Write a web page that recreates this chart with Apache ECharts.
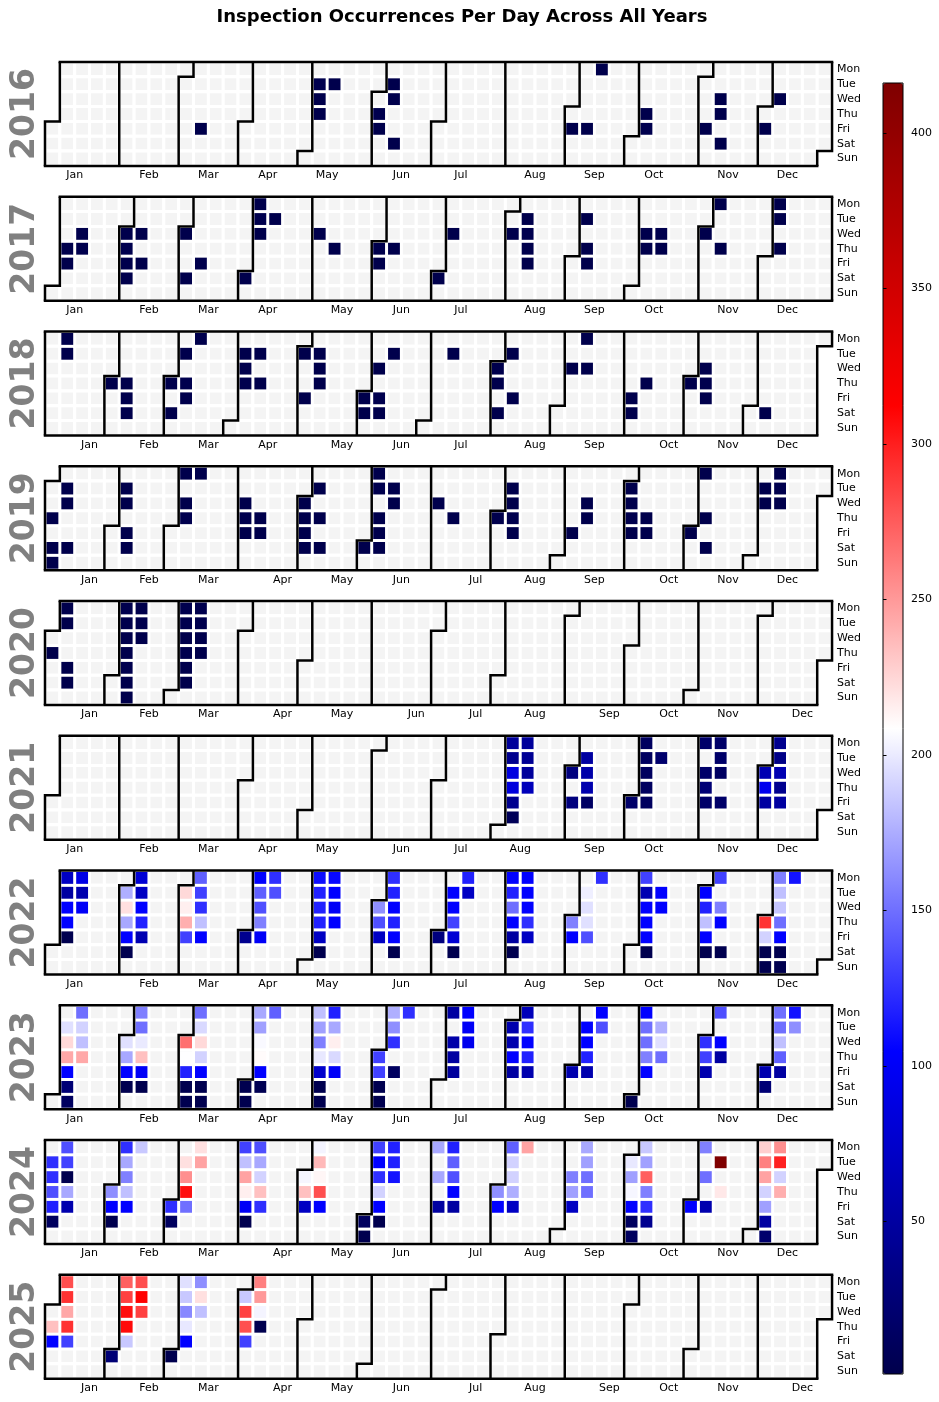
<!DOCTYPE html>
<html>
<head>
<meta charset="utf-8">
<title>Inspection Occurrences Per Day Across All Years</title>
<script src="https://cdn.jsdelivr.net/npm/echarts@6/dist/echarts.min.js"></script>
<style>
  html, body { margin: 0; padding: 0; background: #fff; }
  #chart { width: 939px; height: 1402px; }
</style>
</head>
<body>
<div id="chart"></div>
<script>
const years = [2016, 2017, 2018, 2019, 2020, 2021, 2022, 2023, 2024, 2025];

const counts2016 = [
  ['2016-03-11', 1], ['2016-05-03', 2], ['2016-05-04', 1], ['2016-05-05', 1], ['2016-05-10', 1],
  ['2016-06-02', 2], ['2016-06-03', 1], ['2016-06-07', 1], ['2016-06-08', 1], ['2016-06-11', 1],
  ['2016-09-02', 1], ['2016-09-09', 1], ['2016-09-12', 1], ['2016-10-06', 1], ['2016-10-07', 2],
  ['2016-11-04', 1], ['2016-11-09', 1], ['2016-11-10', 1], ['2016-11-12', 1], ['2016-12-02', 1],
  ['2016-12-07', 1]
];
const counts2017 = [
  ['2017-01-05', 1], ['2017-01-06', 1], ['2017-01-11', 1], ['2017-01-12', 2],
  ['2017-02-01', 1], ['2017-02-02', 2], ['2017-02-03', 1], ['2017-02-04', 1], ['2017-02-08', 1], ['2017-02-10', 1],
  ['2017-03-01', 1], ['2017-03-04', 1], ['2017-03-10', 1],
  ['2017-04-01', 1], ['2017-04-03', 1], ['2017-04-04', 2], ['2017-04-05', 1], ['2017-04-11', 1],
  ['2017-05-03', 1], ['2017-05-11', 1], ['2017-06-01', 1], ['2017-06-02', 1], ['2017-06-08', 1],
  ['2017-07-01', 1], ['2017-07-05', 1],
  ['2017-08-02', 1], ['2017-08-08', 1], ['2017-08-09', 2], ['2017-08-10', 1], ['2017-08-11', 1],
  ['2017-09-05', 1], ['2017-09-07', 1], ['2017-09-08', 1],
  ['2017-10-04', 1], ['2017-10-05', 1], ['2017-10-11', 2], ['2017-10-12', 1],
  ['2017-11-01', 1], ['2017-11-06', 1], ['2017-11-09', 1], ['2017-12-04', 1], ['2017-12-05', 1], ['2017-12-07', 1]
];
const counts2018 = [
  ['2018-01-08', 1], ['2018-01-09', 1],
  ['2018-02-01', 1], ['2018-02-08', 1], ['2018-02-09', 1], ['2018-02-10', 1],
  ['2018-03-01', 1], ['2018-03-03', 1], ['2018-03-06', 1], ['2018-03-08', 2], ['2018-03-09', 1], ['2018-03-12', 1],
  ['2018-04-03', 1], ['2018-04-04', 1], ['2018-04-05', 2], ['2018-04-10', 1], ['2018-04-12', 1],
  ['2018-05-01', 1], ['2018-05-04', 1], ['2018-05-08', 1], ['2018-05-09', 1], ['2018-05-10', 1],
  ['2018-06-01', 1], ['2018-06-02', 1], ['2018-06-06', 1], ['2018-06-08', 2], ['2018-06-09', 1], ['2018-06-12', 1],
  ['2018-07-10', 1],
  ['2018-08-01', 1], ['2018-08-02', 1], ['2018-08-04', 1], ['2018-08-07', 1], ['2018-08-10', 1],
  ['2018-09-05', 1], ['2018-09-10', 1], ['2018-09-12', 1],
  ['2018-10-05', 1], ['2018-10-06', 1], ['2018-10-11', 1],
  ['2018-11-01', 1], ['2018-11-07', 1], ['2018-11-08', 2], ['2018-11-09', 1], ['2018-12-08', 1]
];
const counts2019 = [
  ['2019-01-03', 1], ['2019-01-05', 1], ['2019-01-06', 1], ['2019-01-08', 1], ['2019-01-09', 1], ['2019-01-12', 1],
  ['2019-02-05', 1], ['2019-02-06', 1], ['2019-02-08', 1], ['2019-02-09', 1],
  ['2019-03-04', 1], ['2019-03-06', 1], ['2019-03-07', 2], ['2019-03-11', 1],
  ['2019-04-03', 1], ['2019-04-04', 2], ['2019-04-05', 1], ['2019-04-11', 1], ['2019-04-12', 1],
  ['2019-05-01', 1], ['2019-05-02', 1], ['2019-05-03', 1], ['2019-05-04', 1], ['2019-05-07', 1], ['2019-05-09', 1], ['2019-05-11', 1],
  ['2019-06-01', 1], ['2019-06-03', 1], ['2019-06-04', 2], ['2019-06-06', 1], ['2019-06-07', 1], ['2019-06-08', 1],
  ['2019-06-11', 1], ['2019-06-12', 1],
  ['2019-07-03', 1], ['2019-07-11', 1],
  ['2019-08-01', 1], ['2019-08-06', 1], ['2019-08-07', 1], ['2019-08-08', 2], ['2019-08-09', 1],
  ['2019-09-06', 1], ['2019-09-11', 1], ['2019-09-12', 1],
  ['2019-10-01', 1], ['2019-10-02', 1], ['2019-10-03', 2], ['2019-10-04', 1], ['2019-10-10', 1], ['2019-10-11', 1],
  ['2019-11-01', 1], ['2019-11-04', 1], ['2019-11-07', 1], ['2019-11-09', 1],
  ['2019-12-03', 1], ['2019-12-04', 1], ['2019-12-09', 1], ['2019-12-10', 2], ['2019-12-11', 1]
];
const counts2020 = [
  ['2020-01-02', 1], ['2020-01-06', 1], ['2020-01-07', 1], ['2020-01-10', 1], ['2020-01-11', 1],
  ['2020-02-03', 2], ['2020-02-04', 1], ['2020-02-05', 1], ['2020-02-06', 1], ['2020-02-07', 2],
  ['2020-02-08', 1], ['2020-02-09', 1], ['2020-02-10', 1], ['2020-02-11', 2], ['2020-02-12', 1],
  ['2020-03-02', 2], ['2020-03-03', 2], ['2020-03-04', 1], ['2020-03-05', 2], ['2020-03-06', 1],
  ['2020-03-07', 1], ['2020-03-09', 2], ['2020-03-10', 2], ['2020-03-11', 1], ['2020-03-12', 1]
];
const counts2021 = [
  ['2021-08-02', 47], ['2021-08-03', 40], ['2021-08-04', 87], ['2021-08-05', 85], ['2021-08-06', 40], ['2021-08-07', 8],
  ['2021-08-09', 47], ['2021-08-10', 43], ['2021-08-11', 47], ['2021-08-12', 65],
  ['2021-09-01', 30], ['2021-09-03', 30], ['2021-09-07', 50], ['2021-09-08', 55], ['2021-09-09', 58], ['2021-09-10', 15],
  ['2021-10-01', 18], ['2021-10-04', 12], ['2021-10-05', 12], ['2021-10-06', 12], ['2021-10-07', 12], ['2021-10-08', 12],
  ['2021-10-12', 20],
  ['2021-11-01', 18], ['2021-11-03', 18], ['2021-11-04', 25], ['2021-11-05', 18], ['2021-11-08', 18], ['2021-11-09', 18],
  ['2021-11-10', 14], ['2021-11-12', 18],
  ['2021-12-01', 60], ['2021-12-02', 95], ['2021-12-03', 50], ['2021-12-06', 40], ['2021-12-07', 35], ['2021-12-08', 60],
  ['2021-12-09', 40], ['2021-12-10', 50]
];
const counts2022 = [
  ['2022-01-03', 70], ['2022-01-04', 50], ['2022-01-05', 105], ['2022-01-06', 105], ['2022-01-07', 3],
  ['2022-01-10', 90], ['2022-01-11', 58], ['2022-01-12', 100],
  ['2022-02-01', 176], ['2022-02-02', 221], ['2022-02-03', 173], ['2022-02-04', 105], ['2022-02-05', 3],
  ['2022-02-07', 80], ['2022-02-08', 70], ['2022-02-09', 105], ['2022-02-10', 118], ['2022-02-11', 60],
  ['2022-03-01', 224], ['2022-03-02', 215], ['2022-03-03', 241], ['2022-03-04', 131],
  ['2022-03-07', 144], ['2022-03-08', 131], ['2022-03-09', 124], ['2022-03-10', 183], ['2022-03-11', 105],
  ['2022-04-01', 40], ['2022-04-04', 105], ['2022-04-05', 144], ['2022-04-06', 137], ['2022-04-07', 157],
  ['2022-04-08', 100], ['2022-04-11', 124], ['2022-04-12', 137],
  ['2022-05-02', 110], ['2022-05-03', 118], ['2022-05-04', 118], ['2022-05-05', 118], ['2022-05-06', 70], ['2022-05-07', 3],
  ['2022-05-09', 108], ['2022-05-10', 105], ['2022-05-11', 100], ['2022-05-12', 104],
  ['2022-06-01', 163], ['2022-06-02', 137], ['2022-06-03', 70], ['2022-06-06', 124], ['2022-06-07', 118],
  ['2022-06-08', 105], ['2022-06-09', 118], ['2022-06-10', 105], ['2022-06-11', 3],
  ['2022-07-01', 30], ['2022-07-05', 105], ['2022-07-06', 105], ['2022-07-07', 131], ['2022-07-08', 80], ['2022-07-09', 3],
  ['2022-07-11', 118], ['2022-07-12', 70],
  ['2022-08-01', 105], ['2022-08-02', 118], ['2022-08-03', 150], ['2022-08-04', 105], ['2022-08-05', 50], ['2022-08-06', 3],
  ['2022-08-08', 105], ['2022-08-09', 105], ['2022-08-10', 105], ['2022-08-11', 124], ['2022-08-12', 70],
  ['2022-09-01', 157], ['2022-09-02', 105], ['2022-09-06', 202], ['2022-09-07', 196], ['2022-09-08', 196],
  ['2022-09-09', 137], ['2022-09-12', 124],
  ['2022-10-03', 131], ['2022-10-04', 60], ['2022-10-05', 105], ['2022-10-06', 105], ['2022-10-07', 105], ['2022-10-08', 3],
  ['2022-10-11', 105], ['2022-10-12', 105],
  ['2022-11-01', 105], ['2022-11-02', 118], ['2022-11-03', 183], ['2022-11-04', 105], ['2022-11-05', 3],
  ['2022-11-07', 131], ['2022-11-09', 157], ['2022-11-10', 105], ['2022-11-12', 3],
  ['2022-12-01', 292], ['2022-12-02', 190], ['2022-12-03', 3], ['2022-12-04', 3], ['2022-12-05', 157], ['2022-12-06', 183],
  ['2022-12-07', 185], ['2022-12-08', 150], ['2022-12-09', 105], ['2022-12-10', 3], ['2022-12-11', 3], ['2022-12-12', 112]
];
const counts2023 = [
  ['2023-01-03', 196], ['2023-01-04', 224], ['2023-01-05', 244], ['2023-01-06', 105], ['2023-01-07', 25], ['2023-01-08', 12],
  ['2023-01-09', 150], ['2023-01-10', 190], ['2023-01-11', 183], ['2023-01-12', 244],
  ['2023-02-01', 196], ['2023-02-02', 173], ['2023-02-03', 105], ['2023-02-04', 3], ['2023-02-06', 157], ['2023-02-07', 150],
  ['2023-02-08', 200], ['2023-02-09', 234], ['2023-02-10', 100], ['2023-02-11', 3],
  ['2023-03-01', 267], ['2023-03-02', 208], ['2023-03-03', 118], ['2023-03-04', 3], ['2023-03-05', 3], ['2023-03-06', 150],
  ['2023-03-07', 193], ['2023-03-08', 224], ['2023-03-09', 190], ['2023-03-10', 105], ['2023-03-11', 3], ['2023-03-12', 3],
  ['2023-04-01', 3], ['2023-04-02', 3], ['2023-04-03', 173], ['2023-04-04', 170], ['2023-04-05', 206], ['2023-04-06', 210],
  ['2023-04-07', 105], ['2023-04-08', 5], ['2023-04-10', 144],
  ['2023-05-01', 183], ['2023-05-02', 170], ['2023-05-03', 157], ['2023-05-04', 199], ['2023-05-05', 75], ['2023-05-06', 3],
  ['2023-05-07', 3], ['2023-05-08', 118], ['2023-05-09', 173], ['2023-05-10', 215], ['2023-05-11', 193], ['2023-05-12', 100],
  ['2023-06-01', 131], ['2023-06-02', 131], ['2023-06-03', 3], ['2023-06-04', 3], ['2023-06-05', 176], ['2023-06-06', 163],
  ['2023-06-07', 124], ['2023-06-09', 12], ['2023-06-12', 124],
  ['2023-07-03', 50], ['2023-07-05', 55], ['2023-07-06', 50], ['2023-07-07', 48], ['2023-07-10', 105], ['2023-07-11', 100],
  ['2023-07-12', 95],
  ['2023-08-01', 58], ['2023-08-02', 58], ['2023-08-03', 105], ['2023-08-04', 50], ['2023-08-07', 65], ['2023-08-08', 124],
  ['2023-08-09', 105], ['2023-08-10', 118], ['2023-08-11', 58],
  ['2023-09-01', 58], ['2023-09-05', 105], ['2023-09-06', 105], ['2023-09-07', 118], ['2023-09-08', 58], ['2023-09-11', 105],
  ['2023-09-12', 137],
  ['2023-10-01', 3], ['2023-10-02', 105], ['2023-10-03', 150], ['2023-10-04', 150], ['2023-10-05', 157], ['2023-10-06', 105],
  ['2023-10-10', 176], ['2023-10-11', 196], ['2023-10-12', 150],
  ['2023-11-01', 124], ['2023-11-02', 131], ['2023-11-03', 58], ['2023-11-06', 137], ['2023-11-08', 105], ['2023-11-09', 50],
  ['2023-12-01', 58], ['2023-12-02', 25], ['2023-12-04', 150], ['2023-12-05', 150], ['2023-12-06', 183], ['2023-12-07', 144],
  ['2023-12-08', 50], ['2023-12-11', 112], ['2023-12-12', 163]
];
const counts2024 = [
  ['2024-01-02', 124], ['2024-01-03', 124], ['2024-01-04', 137], ['2024-01-05', 118], ['2024-01-06', 12],
  ['2024-01-08', 137], ['2024-01-09', 131], ['2024-01-10', 3], ['2024-01-11', 173], ['2024-01-12', 58],
  ['2024-02-01', 163], ['2024-02-02', 105], ['2024-02-03', 3], ['2024-02-05', 124], ['2024-02-06', 173], ['2024-02-07', 157],
  ['2024-02-08', 183], ['2024-02-09', 105], ['2024-02-12', 186],
  ['2024-03-01', 124], ['2024-03-02', 12], ['2024-03-05', 221], ['2024-03-06', 254], ['2024-03-07', 306], ['2024-03-08', 150],
  ['2024-03-11', 221], ['2024-03-12', 246],
  ['2024-04-01', 131], ['2024-04-02', 183], ['2024-04-03', 246], ['2024-04-04', 215], ['2024-04-05', 100], ['2024-04-06', 3],
  ['2024-04-08', 137], ['2024-04-09', 173], ['2024-04-10', 190], ['2024-04-11', 234], ['2024-04-12', 124],
  ['2024-05-01', 205], ['2024-05-02', 234], ['2024-05-03', 70], ['2024-05-06', 204], ['2024-05-07', 237], ['2024-05-08', 212],
  ['2024-05-09', 280], ['2024-05-10', 105],
  ['2024-06-01', 12], ['2024-06-02', 3], ['2024-06-03', 131], ['2024-06-04', 105], ['2024-06-05', 124], ['2024-06-06', 190],
  ['2024-06-07', 105], ['2024-06-08', 3], ['2024-06-10', 118], ['2024-06-11', 118], ['2024-06-12', 112],
  ['2024-07-01', 173], ['2024-07-03', 173], ['2024-07-05', 50], ['2024-07-08', 118], ['2024-07-09', 144], ['2024-07-10', 137],
  ['2024-07-11', 105], ['2024-07-12', 50],
  ['2024-08-01', 163], ['2024-08-02', 105], ['2024-08-05', 144], ['2024-08-06', 190], ['2024-08-07', 190], ['2024-08-08', 176],
  ['2024-08-09', 70], ['2024-08-12', 246],
  ['2024-09-04', 157], ['2024-09-05', 170], ['2024-09-06', 70], ['2024-09-09', 173], ['2024-09-10', 170], ['2024-09-11', 150],
  ['2024-09-12', 150],
  ['2024-10-01', 199], ['2024-10-02', 170], ['2024-10-03', 205], ['2024-10-04', 105], ['2024-10-05', 12], ['2024-10-06', 12],
  ['2024-10-07', 186], ['2024-10-08', 170], ['2024-10-09', 273], ['2024-10-10', 157], ['2024-10-11', 124], ['2024-10-12', 40],
  ['2024-11-01', 105], ['2024-11-04', 157], ['2024-11-06', 150], ['2024-11-08', 58], ['2024-11-12', 416], ['2024-11-14', 218],
  ['2024-12-02', 228], ['2024-12-03', 260], ['2024-12-04', 246], ['2024-12-05', 190], ['2024-12-06', 170], ['2024-12-07', 50],
  ['2024-12-08', 20], ['2024-12-09', 254], ['2024-12-10', 299], ['2024-12-11', 190], ['2024-12-12', 241]
];
const counts2025 = [
  ['2025-01-02', 234], ['2025-01-03', 105], ['2025-01-06', 280], ['2025-01-07', 292], ['2025-01-08', 244], ['2025-01-09', 292],
  ['2025-01-10', 131],
  ['2025-02-01', 25], ['2025-02-03', 273], ['2025-02-04', 286], ['2025-02-05', 306], ['2025-02-06', 308], ['2025-02-07', 186],
  ['2025-02-10', 280], ['2025-02-11', 312], ['2025-02-12', 286],
  ['2025-03-01', 3], ['2025-03-03', 196], ['2025-03-04', 186], ['2025-03-05', 160], ['2025-03-06', 199], ['2025-03-07', 105],
  ['2025-03-10', 163], ['2025-03-11', 221], ['2025-03-12', 183],
  ['2025-04-01', 186], ['2025-04-02', 286], ['2025-04-03', 280], ['2025-04-04', 131], ['2025-04-07', 260], ['2025-04-08', 250],
  ['2025-04-09', 204], ['2025-04-10', 3]
];

const countsByYear = [counts2016, counts2017, counts2018, counts2019, counts2020,
  counts2021, counts2022, counts2023, counts2024, counts2025];

const colorbarTicks = [50, 100, 150, 200, 250, 300, 350, 400];
const valueMin = 1;
const valueMax = 416;
const seismic = ['#00004c', '#0000ff', '#ffffff', '#ff0000', '#7f0000'];
const dayNames = ['Sun', 'Mon', 'Tue', 'Wed', 'Thu', 'Fri', 'Sat'];
const monthNames = ['Jan', 'Feb', 'Mar', 'Apr', 'May', 'Jun', 'Jul', 'Aug', 'Sep', 'Oct', 'Nov', 'Dec'];

// layout
const cell = 14.85;
const gridLeft = 45;
const firstTop = 62;
const rowStep = 134.75;
const font = 'DejaVu Sans';

const chart = echarts.init(document.getElementById('chart'));

const calendars = years.map((y, i) => ({
  orient: 'horizontal',
  range: String(y),
  left: gridLeft,
  top: firstTop + i * rowStep,
  cellSize: [cell, cell],
  splitLine: { show: true, lineStyle: { color: '#000', width: 2.5 } },
  itemStyle: { color: '#f4f4f4', borderColor: '#fff', borderWidth: 3 },
  dayLabel: {
    firstDay: 1, position: 'end', margin: 5, nameMap: dayNames,
    color: '#000', fontSize: 11, fontFamily: font
  },
  monthLabel: { show: false },
  yearLabel: {
    show: true, position: 'left', margin: 3,
    color: '#808080', fontSize: 33, fontWeight: 'bold', fontFamily: font
  }
}));

const series = countsByYear.map((d, i) => ({
  type: 'heatmap',
  coordinateSystem: 'calendar',
  calendarIndex: i,
  data: d
}));
// keeps the colorbar axis alive
series.push({ type: 'scatter', xAxisIndex: 0, yAxisIndex: 0, data: [], silent: true });

const option = {
  animation: false,
  backgroundColor: '#fff',
  title: {
    text: 'Inspection Occurrences Per Day Across All Years',
    left: 457,
    top: 3,
    textAlign: 'center',
    textStyle: { fontSize: 18, fontWeight: 'bold', fontFamily: font, color: '#000' }
  },
  calendar: calendars,
  visualMap: {
    type: 'continuous',
    min: valueMin,
    max: valueMax,
    seriesIndex: countsByYear.map((d, i) => i),
    orient: 'vertical',
    left: 883,
    top: 83,
    itemWidth: 20,
    itemHeight: 1291,
    padding: 0,
    calculable: false,
    hoverLink: false,
    inRange: { color: seismic }
  },
  grid: {
    left: 883, top: 83, width: 20, height: 1291,
    show: true, borderColor: '#000', borderWidth: 1,
    backgroundColor: 'rgba(0,0,0,0)', z: 6
  },
  xAxis: { type: 'value', show: false, min: 0, max: 1 },
  yAxis: {
    type: 'value',
    position: 'right',
    min: valueMin,
    max: valueMax,
    z: 6,
    axisLine: { show: false },
    splitLine: { show: false },
    axisTick: { show: true, customValues: colorbarTicks, length: 3.5, lineStyle: { color: '#000', width: 1 } },
    axisLabel: { customValues: colorbarTicks, margin: 8, color: '#000', fontSize: 11, fontFamily: font }
  },
  series: series
};

chart.setOption(option);

// month labels sit at the week of the 15th, like the original calendar plot
const monthText = [];
years.forEach((y, i) => {
  const jan1 = new Date(y, 0, 1).getDay();
  const shift = (jan1 >= 1 && jan1 <= 4) ? cell / 2 : -cell / 2;
  const yPos = firstTop + i * rowStep + 7 * cell + 9.5;
  monthNames.forEach((m, k) => {
    const day = y + '-' + String(k + 1).padStart(2, '0') + '-15';
    const p = chart.convertToPixel({ calendarIndex: i }, day);
    if (!p) return;
    monthText.push({
      type: 'text',
      x: p[0] + shift,
      y: yPos,
      silent: true,
      style: {
        text: m, fill: '#000', font: '11px "DejaVu Sans"',
        textAlign: 'center', textVerticalAlign: 'middle'
      }
    });
  });
});
chart.setOption({ graphic: monthText });
</script>
</body>
</html>
